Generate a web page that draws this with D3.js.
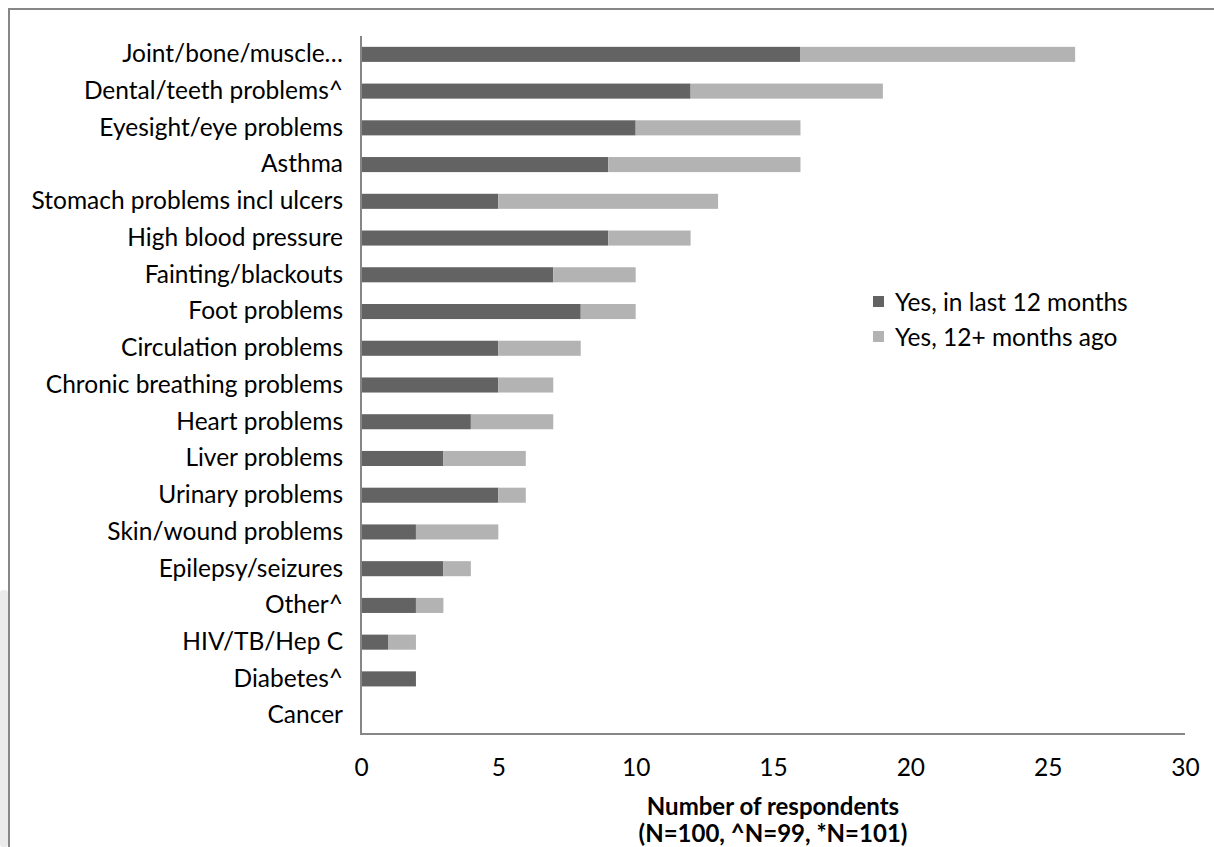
<!DOCTYPE html>
<html>
<head>
<meta charset="utf-8">
<script src="https://cdn.jsdelivr.net/npm/d3@7"></script>
<style>
  html, body { margin: 0; padding: 0; background: #fff; }
  svg { display: block; }
  text { font-family: Lato, "Open Sans", sans-serif; fill: #000; }
</style>
</head>
<body>
<svg id="chart" width="1214" height="847"></svg>
<script>
// Health conditions reported, ordered from most to fewest respondents
const categories = [
  "Joint/bone/muscle…", "Dental/teeth problems^", "Eyesight/eye problems", "Asthma",
  "Stomach problems incl ulcers", "High blood pressure", "Fainting/blackouts", "Foot problems",
  "Circulation problems", "Chronic breathing problems", "Heart problems", "Liver problems",
  "Urinary problems", "Skin/wound problems", "Epilepsy/seizures", "Other^",
  "HIV/TB/Hep C", "Diabetes^", "Cancer"
];
const lastYear   = [16, 12, 10, 9, 5, 9, 7, 8, 5, 5, 4, 3, 5, 2, 3, 2, 1, 2, 0];
const earlier    = [10, 7, 6, 7, 8, 3, 3, 2, 3, 2, 3, 3, 1, 3, 1, 1, 1, 0, 0];
const seriesNames = ["Yes, in last 12 months", "Yes, 12+ months ago"];
const seriesColors = ["#636363", "#b3b3b3"];
const xTicks = [0, 5, 10, 15, 20, 25, 30];
const axisTitle = ["Number of respondents", "(N=100, ^N=99, *N=101)"];

const svg = d3.select("#chart");
const W = 1214, H = 847;
const FS = 24.5;

// outer chart frame
svg.append("rect").attr("x", 0).attr("y", 590).attr("width", 8).attr("height", H - 590)
  .attr("rx", 3).attr("fill", "#ebebeb");
svg.append("path").attr("d", `M9,${H} V9 H${W}`)
  .attr("fill", "none").attr("stroke", "#878787").attr("stroke-width", 2);

const plot = { left: 361, right: 1185, top: 36, bottom: 734 };

const x = d3.scaleLinear().domain([0, 30]).range([plot.left, plot.right]);
const y = d3.scaleBand().domain(categories).range([plot.top, plot.bottom]).padding(0);
const barH = y.bandwidth() * 0.41;

const rows = categories.map((c, i) => ({ cat: c, a: lastYear[i], b: earlier[i] }));
const stacked = d3.stack().keys(["a", "b"])(rows);

const g = svg.append("g");
stacked.forEach((layer, li) => {
  g.selectAll(null).data(layer).join("rect")
    .attr("x", d => x(d[0]))
    .attr("width", d => Math.max(0, x(d[1]) - x(d[0])))
    .attr("y", d => y(d.data.cat) + y.bandwidth() / 2 - barH / 2)
    .attr("height", barH)
    .attr("fill", seriesColors[li]);
});

// axes lines
svg.append("path")
  .attr("d", `M${plot.left},${plot.top} V${plot.bottom} H${plot.right}`)
  .attr("fill", "none").attr("stroke", "#868686").attr("stroke-width", 2);

// category labels
const yAxis = d3.axisLeft(y).tickSize(0).tickPadding(18);
const yg = svg.append("g").attr("transform", `translate(${plot.left},0)`).call(yAxis);
yg.select(".domain").remove();
yg.selectAll("text").attr("font-size", FS).attr("font-family", "Lato, sans-serif").attr("fill", "#000");

// value labels
const xAxis = d3.axisBottom(x).tickValues(xTicks).tickSize(0).tickPadding(25).tickFormat(d3.format("d"));
const xg = svg.append("g").attr("transform", `translate(0,${plot.bottom})`).call(xAxis);
xg.select(".domain").remove();
xg.selectAll("text").attr("font-size", FS).attr("font-family", "Lato, sans-serif").attr("fill", "#000");

// axis title
const cx = (plot.left + plot.right) / 2;
axisTitle.forEach((t, i) => {
  svg.append("text").attr("x", cx).attr("y", 815 + i * 27)
    .attr("text-anchor", "middle").attr("font-size", 24).attr("font-weight", "bold").text(t);
});

// legend
const lg = svg.append("g").attr("transform", "translate(873,302)");
seriesNames.forEach((n, i) => {
  const row = lg.append("g").attr("transform", `translate(0,${i * 35})`);
  row.append("rect").attr("x", 0).attr("y", -6).attr("width", 11).attr("height", 11).attr("fill", seriesColors[i]);
  row.append("text").attr("x", 22).attr("y", 0).attr("dy", "0.35em").attr("font-size", FS).text(n);
});
</script>
</body>
</html>
